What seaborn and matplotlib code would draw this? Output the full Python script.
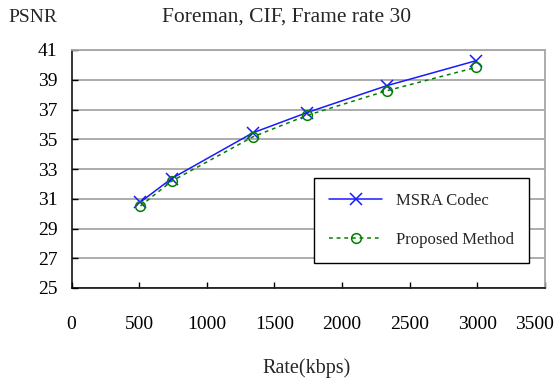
import matplotlib
matplotlib.use("Agg")
import matplotlib.pyplot as plt
import matplotlib.transforms as mtransforms
import seaborn as sns
import pandas as pd

rates = [510, 740, 1340, 1740, 2330, 2990]
msra_psnr = [30.78, 32.36, 35.43, 36.79, 38.60, 40.28]
proposed_psnr = [30.52, 32.18, 35.16, 36.60, 38.26, 39.83]
x_ticks = [0, 500, 1000, 1500, 2000, 2500, 3000, 3500]
y_ticks = [25, 27, 29, 31, 33, 35, 37, 39, 41]

sns.set_theme(style="white")
plt.rcParams['font.family'] = ['Liberation Serif', 'DejaVu Serif']

fig = plt.figure(figsize=(5.55, 3.81), dpi=100)
ax = fig.add_axes([71.5 / 555, 1 - 288 / 381, (545 - 71.5) / 555, (288 - 50) / 381])

df_m = pd.DataFrame({"rate": rates, "psnr": msra_psnr})
df_p = pd.DataFrame({"rate": rates, "psnr": proposed_psnr})

sns.lineplot(data=df_m, x="rate", y="psnr", ax=ax, color="#1a1aff", lw=1.1,
             marker="x", markersize=8.5, markeredgecolor="#1a1aff",
             markeredgewidth=1.1, label="MSRA Codec", zorder=3)
sns.lineplot(data=df_p, x="rate", y="psnr", ax=ax, color="#008000", lw=1.1,
             linestyle=(0, (2.5, 2.5)), marker="o", markersize=7,
             markerfacecolor="none", markeredgecolor="#008000",
             markeredgewidth=1.1, label="Proposed Method", zorder=4)

ax.set_xlim(0, 3500)
ax.set_ylim(25, 41)
ax.set_xticks(x_ticks)
ax.set_yticks(y_ticks)
ax.set_xticklabels([str(v) for v in x_ticks])
ax.set_yticklabels([str(v) for v in y_ticks])
ax.set_xlabel("")
ax.set_ylabel("")

ax.yaxis.grid(True, color="#a6a6a6", lw=1.3)
ax.xaxis.grid(False)
ax.set_axisbelow(True)

for s in ["left", "bottom"]:
    ax.spines[s].set_color("black")
    ax.spines[s].set_linewidth(1.1)
for s in ["top", "right"]:
    ax.spines[s].set_color("#a6a6a6")
    ax.spines[s].set_linewidth(1.3)

ax.tick_params(axis="both", direction="in", length=4.5, width=1.0,
               color="black", labelsize=14, labelcolor="black")
ax.tick_params(axis="x", pad=20, bottom=True)
ax.tick_params(axis="y", pad=10, left=True)

# shift last x label left so it fits inside the figure (as in reference)
last = ax.get_xticklabels()[-1]
last.set_transform(last.get_transform() +
                   mtransforms.ScaledTranslation(-11 / 100, 0, fig.dpi_scale_trans))

leg = ax.legend(loc="upper left", bbox_to_anchor=((314 - 71.5) / 473.5, 1 - (178 - 50) / 238),
                frameon=True, fancybox=False, fontsize=12, handlelength=3.2,
                handletextpad=0.8, labelspacing=1.4, borderpad=0.9,
                borderaxespad=0)
leg.get_frame().set_edgecolor("black")
leg.get_frame().set_linewidth(1.0)
leg.get_frame().set_facecolor("white")
leg.get_frame().set_alpha(1)

fig.text(8 / 555, 1 - 17 / 381, "PSNR", fontsize=14, va="center", ha="left")
fig.text(287 / 555, 1 - 17 / 381, "Foreman, CIF, Frame rate 30", fontsize=15.5,
         va="center", ha="center")
fig.text(307 / 555, 1 - 368 / 381, "Rate(kbps)", fontsize=14.5, va="center", ha="center")

fig.savefig("out.png", dpi=100)
